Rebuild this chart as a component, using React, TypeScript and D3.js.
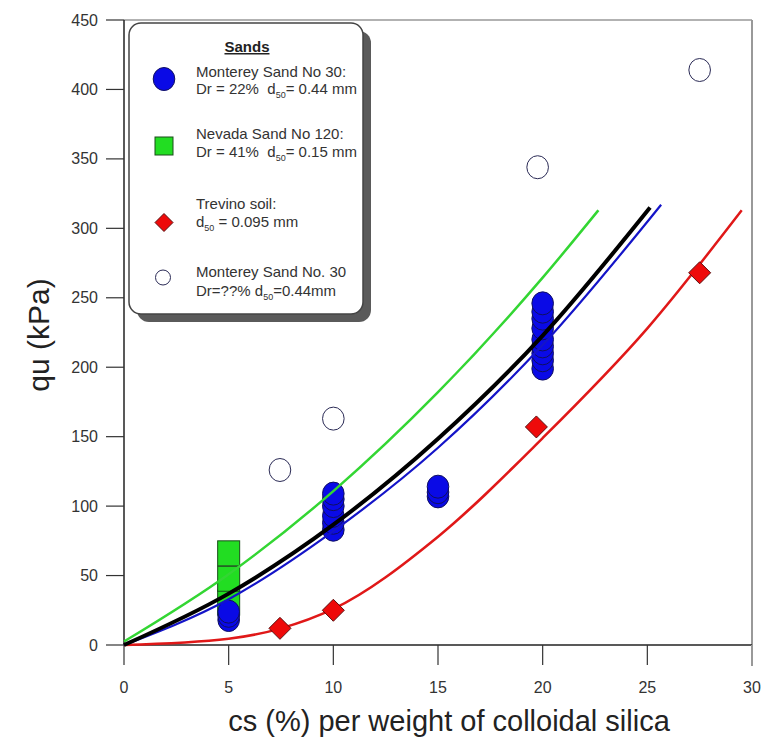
import React from "react";
import * as d3 from "d3";

// Measured points (cs %, qu kPa)
const montereyCs = [5, 5, 5, 10, 10, 10, 10, 10, 10, 15, 15, 15, 20, 20, 20, 20, 20, 20, 20, 20, 20];
const montereyQu = [18, 21, 24, 83, 88, 93, 100, 105, 109, 107, 110, 114, 199, 205, 210, 215, 220, 228, 235, 240, 246];

const nevadaCs = [5, 5, 5];
const nevadaQu = [30.5, 47.7, 66];

const trevinoCs = [7.45, 10, 19.7, 27.5];
const trevinoQu = [12, 25, 157, 268];

const montereyLooseCs = [7.45, 10, 19.76, 27.5];
const montereyLooseQu = [126, 163, 344, 414];

// Fitted trend curves, sampled along cs
const fitBlackCs = [0, 5, 10, 15, 20, 25.13];
const fitBlackQu = [0, 37, 86.6, 148.5, 222.8, 315];

const fitBlueCs = [0, 5, 10, 15, 20, 25.66];
const fitBlueQu = [0, 33, 82, 142, 216, 317];

const fitGreenCs = [0, 5, 10, 15, 20, 22.66];
const fitGreenQu = [2.5, 51, 110.8, 182, 264.5, 313];

const fitRedCs = [0, 5, 7.5, 10, 15, 20, 25, 29.51];
const fitRedQu = [0, 4.5, 12, 26, 78, 149, 228, 313];

const xTicks = [0, 5, 10, 15, 20, 25, 30];
const yTicks = [0, 50, 100, 150, 200, 250, 300, 350, 400, 450];

const W = 763;
const H = 742;
const FONT = "'Liberation Sans', Arial, sans-serif";

export default function App() {
  const x = d3.scaleLinear().domain([0, 30]).range([124, 752]);
  const y = d3.scaleLinear().domain([0, 450]).range([645, 20]);

  const line = d3
    .line<[number, number]>()
    .x((d) => x(d[0]))
    .y((d) => y(d[1]))
    .curve(d3.curveMonotoneX);

  const zip = (a: number[], b: number[]) => a.map((v, i) => [v, b[i]] as [number, number]);

  const diamond = (cx: number, cy: number, r: number) =>
    `M${cx},${cy - r}L${cx + r},${cy}L${cx},${cy + r}L${cx - r},${cy}Z`;

  const textStyle = { fontFamily: FONT, fontSize: 15, fill: "#333", style: { whiteSpace: "pre" } } as const;
  const sub = (s: string) => (
    <tspan fontSize={9} dy={4}>
      {s}
    </tspan>
  );

  return (
    <svg width={W} height={H} viewBox={`0 0 ${W} ${H}`} style={{ position: "absolute", left: 0, top: 0, background: "#fff" }}>
      <rect x={0} y={0} width={W} height={H} fill="#fff" />

      {/* frame */}
      <line x1={124} x2={752} y1={20} y2={20} stroke="#999" strokeWidth={1.5} />
      <line x1={752} x2={752} y1={20} y2={666} stroke="#999" strokeWidth={2} />

      {/* y axis */}
      <line x1={124} x2={124} y1={20} y2={645} stroke="#222" strokeWidth={1.5} />
      {yTicks.map((t) => (
        <g key={"y" + t}>
          <line x1={106} x2={124} y1={y(t)} y2={y(t)} stroke="#333" strokeWidth={1.2} />
          <text x={98} y={y(t)} dy="0.35em" textAnchor="end" fontFamily={FONT} fill="#333" fontSize={16}>
            {t}
          </text>
        </g>
      ))}

      {/* x axis */}
      <line x1={124} x2={752} y1={645} y2={645} stroke="#222" strokeWidth={1.5} />
      {xTicks.map((t) => (
        <g key={"x" + t}>
          <line x1={x(t)} x2={x(t)} y1={645} y2={665} stroke={t === 30 ? "#999" : "#333"} strokeWidth={t === 30 ? 2 : 1.2} />
          <text x={x(t)} y={693} textAnchor="middle" fontFamily={FONT} fill="#333" fontSize={16}>
            {t}
          </text>
        </g>
      ))}

      {/* axis titles */}
      <text x={449} y={731} textAnchor="middle" fontFamily={FONT} fontSize={29} fill="#222">
        cs (%) per weight of colloidal silica
      </text>
      <text transform="translate(49,335) rotate(-90)" textAnchor="middle" fontFamily={FONT} fontSize={30} fill="#222">
        qu (kPa)
      </text>

      {/* markers */}
      {zip(nevadaCs, nevadaQu).map((d, i) => (
        <rect key={"n" + i} x={x(d[0]) - 11} y={y(d[1]) - 12.5} width={22} height={25} fill="#22dd22" stroke="#1a4d1a" strokeWidth={1} />
      ))}
      {zip(montereyCs, montereyQu).map((d, i) => (
        <ellipse key={"m" + i} cx={x(d[0])} cy={y(d[1])} rx={10.8} ry={11.5} fill="#0a0ae6" stroke="#101060" strokeWidth={1} />
      ))}
      {zip(montereyLooseCs, montereyLooseQu).map((d, i) => (
        <ellipse key={"o" + i} cx={x(d[0])} cy={y(d[1])} rx={10.8} ry={11.5} fill="none" stroke="#2a2a55" strokeWidth={1} />
      ))}

      {/* trend curves */}
      <path d={line(zip(fitGreenCs, fitGreenQu)) || ""} fill="none" stroke="#33d633" strokeWidth={2.5} />
      <path d={line(zip(fitRedCs, fitRedQu)) || ""} fill="none" stroke="#e01818" strokeWidth={2.5} />
      <path d={line(zip(fitBlueCs, fitBlueQu)) || ""} fill="none" stroke="#1414c8" strokeWidth={2.2} />
      <path d={line(zip(fitBlackCs, fitBlackQu)) || ""} fill="none" stroke="#000" strokeWidth={4} />

      {zip(trevinoCs, trevinoQu).map((d, i) => (
        <path key={"t" + i} d={diamond(x(d[0]), y(d[1]), 11)} fill="#ee0a0a" stroke="#5a1010" strokeWidth={1} />
      ))}

      {/* legend */}
      <rect x={137} y={31} width={234} height={291} rx={12} fill="#5a5a5a" />
      <rect x={129} y={23} width={234} height={291} rx={12} fill="#fff" stroke="#444" strokeWidth={1.5} />
      <text x={247} y={52} textAnchor="middle" fontFamily={FONT} fontSize={15} fontWeight="bold" fill="#222" textDecoration="underline">
        Sands
      </text>

      <ellipse cx={164} cy={79} rx={10.8} ry={11.5} fill="#0a0ae6" stroke="#101060" strokeWidth={1} />
      <text x={196} y={77} {...textStyle}>Monterey Sand No 30:</text>
      <text x={196} y={94} {...textStyle}>
        {"Dr = 22%  d"}
        {sub("50")}
        <tspan dy={-4}>{"= 0.44 mm"}</tspan>
      </text>

      <rect x={155} y={137} width={18} height={18} fill="#22dd22" stroke="#1a4d1a" strokeWidth={1} />
      <text x={196} y={139} {...textStyle}>Nevada Sand No 120:</text>
      <text x={196} y={157} {...textStyle}>
        {"Dr = 41%  d"}
        {sub("50")}
        <tspan dy={-4}>{"= 0.15 mm"}</tspan>
      </text>

      <path d={diamond(164, 222.5, 9)} fill="#ee0a0a" stroke="#5a1010" strokeWidth={1} />
      <text x={196} y={209} {...textStyle}>Trevino soil:</text>
      <text x={196} y={227} {...textStyle}>
        {"d"}
        {sub("50")}
        <tspan dy={-4}>{" = 0.095 mm"}</tspan>
      </text>

      <circle cx={163} cy={277.5} r={7.5} fill="none" stroke="#2a2a55" strokeWidth={1} />
      <text x={196} y={277} {...textStyle}>Monterey Sand No. 30</text>
      <text x={196} y={296} {...textStyle}>
        {"Dr=??% d"}
        {sub("50")}
        <tspan dy={-4}>{"=0.44mm"}</tspan>
      </text>
    </svg>
  );
}
